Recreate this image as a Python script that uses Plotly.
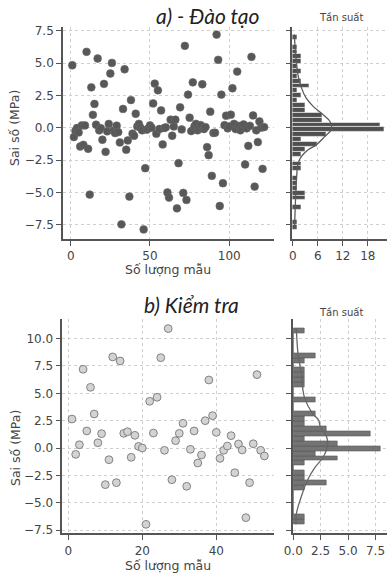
import numpy as np
import plotly.graph_objects as go

# ---------------- data ----------------
train_idx = list(range(1, 123))
train_err = [4.83, -0.72, -0.23, -0.02, -0.36, -1.45, 0.18, -1.32, 0.18, 5.87,
             -1.63, -5.17, 3.12, 1.0, 1.84, 0.23, 5.35, -0.2, -0.03, -0.93,
             3.39, -1.86, -0.28, 0.29, 4.19, 5.01, -0.23, -0.41, 0.16, -0.34,
             -1.14, -7.47, 1.45, 4.52, -1.7, -0.98, -5.32, 2.14, -0.46, -0.62,
             1.08, 0.1, 0.3, 0.0, -0.2, -7.86, -3.13, -0.15, -0.05, 0.18,
             0.0, 1.88, 3.41, -0.46, 2.89, -0.1, 1.34, -1.29, -0.02, 0.03,
             -5.01, -5.4, 0.62, -0.62, 0.1, 0.62, -6.23, -2.74, 1.58, -0.13,
             -5.04, 6.33, -5.58, 2.56, 0.78, -0.26, 3.51, 0.1, 0.3, -0.2,
             0.0, 0.2, 3.36, -0.1, 0.05, -1.5, -2.12, 1.24, -3.72, -0.4,
             -0.39, 7.2, 5.25, -6.05, 2.56, -4.29, 0.2, 0.93, -0.05, 0.1,
             1.01, 3.05, 0.3, -0.1, 4.34, 0.15, -0.2, 0.0, 0.25, -2.84,
             -0.05, -1.4, 0.15, 5.48, 0.95, -4.55, -0.2, -1.11, 0.49, 0.0,
             -3.18, 0.05]

test_idx = list(range(1, 54))
test_err = [2.65, -0.58, 0.3, 7.2, 1.56, 5.55, 3.11, 0.48, 1.31, -3.35,
            -1.07, 8.33, -3.17, 7.96, 1.34, 1.49, -0.85, 1.16, 0.15, 0.0,
            -6.98, 4.27, 1.37, 4.64, 8.26, -0.21, 10.92, -2.9, 0.67, 1.34,
            2.26, -3.5, -0.12, 1.56, -1.37, -0.64, 2.5, 6.22, 2.96, 1.43,
            -0.95, -0.21, 0.18, 1.13, -2.26, 0.37, -0.18, -6.37, -3.17, 0.39,
            6.71, -0.21, -0.73]

# histogram counts (40 bins, from lowest to highest error)
train_hist = [1, 1, 0, 0, 2, 0, 3, 3, 1, 1,
              1, 0, 2, 2, 0, 2, 3, 6, 2, 8,
              22, 21, 7, 7, 3, 3, 1, 2, 1, 4,
              2, 1, 2, 1, 2, 2, 1, 1, 0, 1]
test_hist = [1, 1, 0, 0, 0, 0, 0, 1, 3, 1,
             1, 0, 1, 4, 2, 8, 4, 1, 7, 3,
             1, 1, 2, 0, 0, 2, 0, 0, 1, 1,
             1, 1, 0, 1, 2, 0, 0, 0, 0, 1]

# density curves (error value, frequency)
train_kde_v = [-7.8, -7.1, -5.3, -4.0, -2.74, -2.22, -1.7, -1.32, -0.67, -0.16,
               0.1, 0.5, 1.0, 1.65, 2.3, 3.08, 4.0, 5.0, 6.0, 7.2]
train_kde_f = [0.45, 0.5, 0.7, 0.9, 1.3, 2.1, 3.7, 5.7, 7.7, 9.3,
               9.3, 8.9, 7.3, 4.9, 3.2, 2.1, 1.3, 0.9, 0.6, 0.4]
test_kde_v = [-6.98, -5.97, -4.46, -2.93, -1.71, -0.8, 0.27, 1.03, 1.95, 2.56,
              3.17, 4.7, 6.83, 8.66, 10.5, 10.92]
test_kde_f = [0.25, 0.29, 0.73, 1.3, 2.03, 2.76, 3.13, 3.04, 2.47, 2.3,
              1.74, 1.0, 0.73, 0.43, 0.3, 0.28]

# ---------------- figure ----------------
W, H = 387, 574
def px_x(p):
    return p / W
def px_y(p):
    return 1 - p / H

AX = "#555555"
TXT = "#444444"
GRID = "#cfcfcf"
FONT = "DejaVu Sans"

fig = go.Figure()

fig.add_trace(go.Scatter(x=train_idx, y=train_err, mode="markers",
                         marker=dict(size=7.8, color="#585858",
                                     line=dict(width=0.6, color="#6a6a6a")),
                         xaxis="x", yaxis="y", showlegend=False))

tr_edges = np.linspace(min(train_err), max(train_err), len(train_hist) + 1)
tr_centers = (tr_edges[:-1] + tr_edges[1:]) / 2
fig.add_trace(go.Bar(y=tr_centers, x=train_hist, orientation="h",
                     width=tr_edges[1] - tr_edges[0],
                     marker=dict(color="#4f4f4f", line=dict(color="#ffffff", width=0.6)),
                     xaxis="x2", yaxis="y2", showlegend=False))
fig.add_trace(go.Scatter(x=train_kde_f, y=train_kde_v, mode="lines",
                         line=dict(color="#5a5a5a", width=1.3, shape="spline"),
                         xaxis="x2", yaxis="y2", showlegend=False))

fig.add_trace(go.Scatter(x=test_idx, y=test_err, mode="markers",
                         marker=dict(size=7.8, color="#d3d3d3",
                                     line=dict(width=0.9, color="#777777")),
                         xaxis="x3", yaxis="y3", showlegend=False))

te_edges = np.linspace(min(test_err), max(test_err), len(test_hist) + 1)
te_centers = (te_edges[:-1] + te_edges[1:]) / 2
fig.add_trace(go.Bar(y=te_centers, x=test_hist, orientation="h",
                     width=te_edges[1] - te_edges[0],
                     marker=dict(color="#747474", line=dict(color="#5a5a5a", width=0.6)),
                     xaxis="x4", yaxis="y4", showlegend=False))
fig.add_trace(go.Scatter(x=test_kde_f, y=test_kde_v, mode="lines",
                         line=dict(color="#666666", width=1.3, shape="spline"),
                         xaxis="x4", yaxis="y4", showlegend=False))

def axstyle(**kw):
    d = dict(showline=True, linecolor=AX, linewidth=1.6, mirror=False,
             ticks="outside", ticklen=5, tickwidth=1.2, tickcolor=AX,
             showgrid=True, gridcolor=GRID, griddash="dot", gridwidth=1,
             zeroline=False, automargin=False, ticklabeloverflow="allow",
             tickfont=dict(family=FONT, size=12, color=TXT))
    d.update(kw)
    return d

top_dom = [px_y(238.7), px_y(26.7)]
bot_dom = [px_y(533.3), px_y(319.3)]

fig.update_layout(
    template="simple_white",
    width=W, height=H,
    margin=dict(l=0, r=0, t=0, b=0, autoexpand=False),
    paper_bgcolor="white", plot_bgcolor="white",
    bargap=0,
    xaxis=axstyle(domain=[px_x(63), px_x(274)], range=[-4.85, 128.2],
                  tickvals=[0, 50, 100], anchor="y"),
    yaxis=axstyle(domain=top_dom, range=[-8.58, 7.81], dtick=2.5, tick0=0,
                  tickformat=".1f", anchor="x"),
    xaxis2=axstyle(domain=[px_x(292.3), 1], range=[-0.1, 22.6],
                   tickvals=[0, 6, 12, 18], anchor="y2"),
    yaxis2=axstyle(domain=top_dom, range=[-8.58, 7.81], dtick=2.5, tick0=0,
                   showticklabels=False, anchor="x2"),
    xaxis3=axstyle(domain=[px_x(62.3), px_x(274)], range=[-1.62, 55.6],
                   tickvals=[0, 20, 40], anchor="y3"),
    yaxis3=axstyle(domain=bot_dom, range=[-7.8, 11.77], dtick=2.5, tick0=0,
                   tickformat=".1f", anchor="x3"),
    xaxis4=axstyle(domain=[px_x(292.5), 1], range=[-0.07, 8.55],
                   tickvals=[0, 2.5, 5, 7.5], tickformat=".1f", anchor="y4"),
    yaxis4=axstyle(domain=bot_dom, range=[-7.8, 11.77], dtick=2.5, tick0=0,
                   showticklabels=False, anchor="x4"),
)

def ann(text, x, y, size, rot=0, italic=False, color=TXT, family=FONT):
    fig.add_annotation(text=text, x=px_x(x), y=px_y(y), xref="paper", yref="paper",
                       showarrow=False, textangle=rot, xanchor="center", yanchor="middle",
                       font=dict(family=family, size=size, color=color,
                                 style="italic" if italic else "normal"))

ann("a) - Đào tạo", 208, 15, 21, italic=True, color="#222222", family="Lato")
ann("b) Kiểm tra", 191, 304, 21, italic=True, color="#222222", family="Lato")
ann("Tần suất", 341, 18, 10)
ann("Tần suất", 341, 312, 10)
ann("Sai số (MPa)", 15, 128, 12.5, rot=-90)
ann("Sai số (MPa)", 15, 448, 12.5, rot=-90)
ann("Số lượng mẫu", 168, 269, 12.5)
ann("Số lượng mẫu", 168, 565, 12.5)

fig.write_html("out.html", config={"displayModeBar": False},
               post_script="document.body.style.margin='0';document.body.style.overflow='hidden';")
